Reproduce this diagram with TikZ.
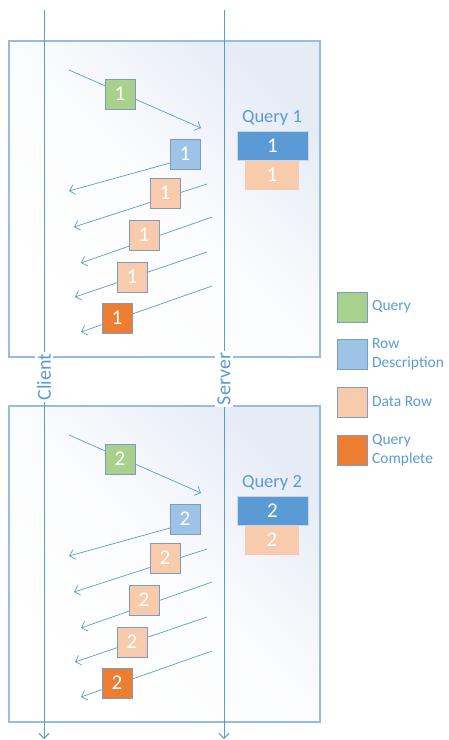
\documentclass[tikz,border=0pt]{standalone}
\usepackage{fontspec}
\setmainfont{Carlito}
\definecolor{lineblue}{RGB}{91, 155, 213}
\definecolor{panelblue}{RGB}{150, 188, 226}
\definecolor{panelgray}{RGB}{230, 236, 246}
\definecolor{boxedge}{RGB}{125, 155, 195}
\definecolor{qgreen}{RGB}{169, 209, 142}
\definecolor{rdblue}{RGB}{157, 195, 230}
\definecolor{drpeach}{RGB}{248, 203, 173}
\definecolor{qcorange}{RGB}{237, 125, 49}
\usetikzlibrary{arrows.meta,positioning}

\begin{document}
\begin{tikzpicture}[x=1pt,y=-1pt,
      panel/.style={draw=panelblue,line width=1.3pt,top color=panelgray,bottom color=white,middle color=white!85!panelgray,shading angle=-45},
      life/.style={draw=lineblue,line width=1pt,-{Straight Barb[length=5pt,width=10pt]}},
      msg/.style={draw=lineblue,line width=0.7pt,-{Straight Barb[length=5pt,width=10pt]}},
      msgbox/.style={rectangle,draw=boxedge,line width=0.8pt,minimum width=30pt,minimum height=30pt,inner sep=0pt,text=white,font=\fontsize{21}{21}\selectfont},
      qbox/.style={msgbox,fill=qgreen},
      rdbox/.style={msgbox,fill=rdblue},
      drbox/.style={msgbox,fill=drpeach},
      qcbox/.style={msgbox,fill=qcorange},
      title/.style={text=lineblue,font=\fontsize{18.5}{18.5}\selectfont},
      lifelabel/.style={text=lineblue,font=\fontsize{20}{20}\selectfont,fill=white,rotate=90,inner sep=2pt},
      stackbox/.style={rectangle,inner sep=0pt,text=white,font=\fontsize{21}{21}\selectfont},
      legtext/.style={text=lineblue,font=\fontsize{15.5}{19}\selectfont,align=left,inner sep=0pt}
    ]
    \useasboundingbox (0,0) rectangle (448,740);

    % two query panels
    \shade[panel] (9,41) rectangle (320,357);
    \shade[panel] (9,406) rectangle (320,722);

    % lifelines
    \coordinate (ctop) at (44,10);
    \coordinate (cbot) at (44,739);
    \coordinate (stop) at (224,10);
    \coordinate (sbot) at (224,739);
    \draw[life] (ctop) -- (cbot);
    \draw[life] (stop) -- (sbot);
    \node[lifelabel] (client) at (44,377) {Client};
    \node[lifelabel] (server) at (224,379) {Server};

    % query 1
    \coordinate (q1s) at (69,70);   \coordinate (q1e) at (201,128);
    \coordinate (rd1s) at (188,158); \coordinate (rd1e) at (69,191);
    \coordinate (da1s) at (207,184); \coordinate (da1e) at (74,227);
    \coordinate (db1s) at (212,217); \coordinate (db1e) at (81,263);
    \coordinate (dc1s) at (207,252); \coordinate (dc1e) at (75,297);
    \coordinate (qc1s) at (212,286); \coordinate (qc1e) at (81,332);
    \draw[msg] (q1s) -- (q1e);
    \draw[msg] (rd1s) -- (rd1e);
    \draw[msg] (da1s) -- (da1e);
    \draw[msg] (db1s) -- (db1e);
    \draw[msg] (dc1s) -- (dc1e);
    \draw[msg] (qc1s) -- (qc1e);
    \node[qbox] (q1) at (120,94) {1};
    \node[rdbox] (rd1) at (185,154) {1};
    \node[drbox] (da1) at (165,193) {1};
    \node[drbox] (db1) at (144,235) {1};
    \node[drbox] (dc1) at (132,277) {1};
    \node[qcbox] (qc1) at (117,318) {1};
    \node[title] (t1) at (272,118) {Query 1};
    \node[stackbox,fill=drpeach,minimum width=54pt,minimum height=30pt] (p1) at (272,175) {1};
    \node[stackbox,fill=lineblue,draw=boxedge!40,minimum width=71pt,minimum height=29pt] (h1) at (272.5,145.5) {1};

    % query 2
    \coordinate (q2s) at (69,435);   \coordinate (q2e) at (201,493);
    \coordinate (rd2s) at (188,523); \coordinate (rd2e) at (69,556);
    \coordinate (da2s) at (207,549); \coordinate (da2e) at (74,592);
    \coordinate (db2s) at (212,582); \coordinate (db2e) at (81,628);
    \coordinate (dc2s) at (207,617); \coordinate (dc2e) at (75,662);
    \coordinate (qc2s) at (212,651); \coordinate (qc2e) at (81,697);
    \draw[msg] (q2s) -- (q2e);
    \draw[msg] (rd2s) -- (rd2e);
    \draw[msg] (da2s) -- (da2e);
    \draw[msg] (db2s) -- (db2e);
    \draw[msg] (dc2s) -- (dc2e);
    \draw[msg] (qc2s) -- (qc2e);
    \node[qbox] (q2) at (120,459) {2};
    \node[rdbox] (rd2) at (185,519) {2};
    \node[drbox] (da2) at (165,558) {2};
    \node[drbox] (db2) at (144,600) {2};
    \node[drbox] (dc2) at (132,642) {2};
    \node[qcbox] (qc2) at (117,683) {2};
    \node[title] (t2) at (272,483) {Query 2};
    \node[stackbox,fill=drpeach,minimum width=54pt,minimum height=30pt] (p2) at (272,540) {2};
    \node[stackbox,fill=lineblue,draw=boxedge!40,minimum width=71pt,minimum height=29pt] (h2) at (272.5,510.5) {2};

    % legend
    \node[qbox] (lq) at (352.5,307) {};
    \node[rdbox] (lrd) at (352.5,354.5) {};
    \node[drbox] (ldr) at (352.5,402) {};
    \node[qcbox] (lqc) at (352.5,450) {};
    \node[legtext,right=4pt of lq] (lqt) {Query};
    \node[legtext,right=4pt of lrd] (lrdt) {Row\\Description};
    \node[legtext,right=4pt of ldr] (ldrt) {Data Row};
    \node[legtext,right=4pt of lqc] (lqct) {Query\\Complete};
  \end{tikzpicture}
\end{document}
